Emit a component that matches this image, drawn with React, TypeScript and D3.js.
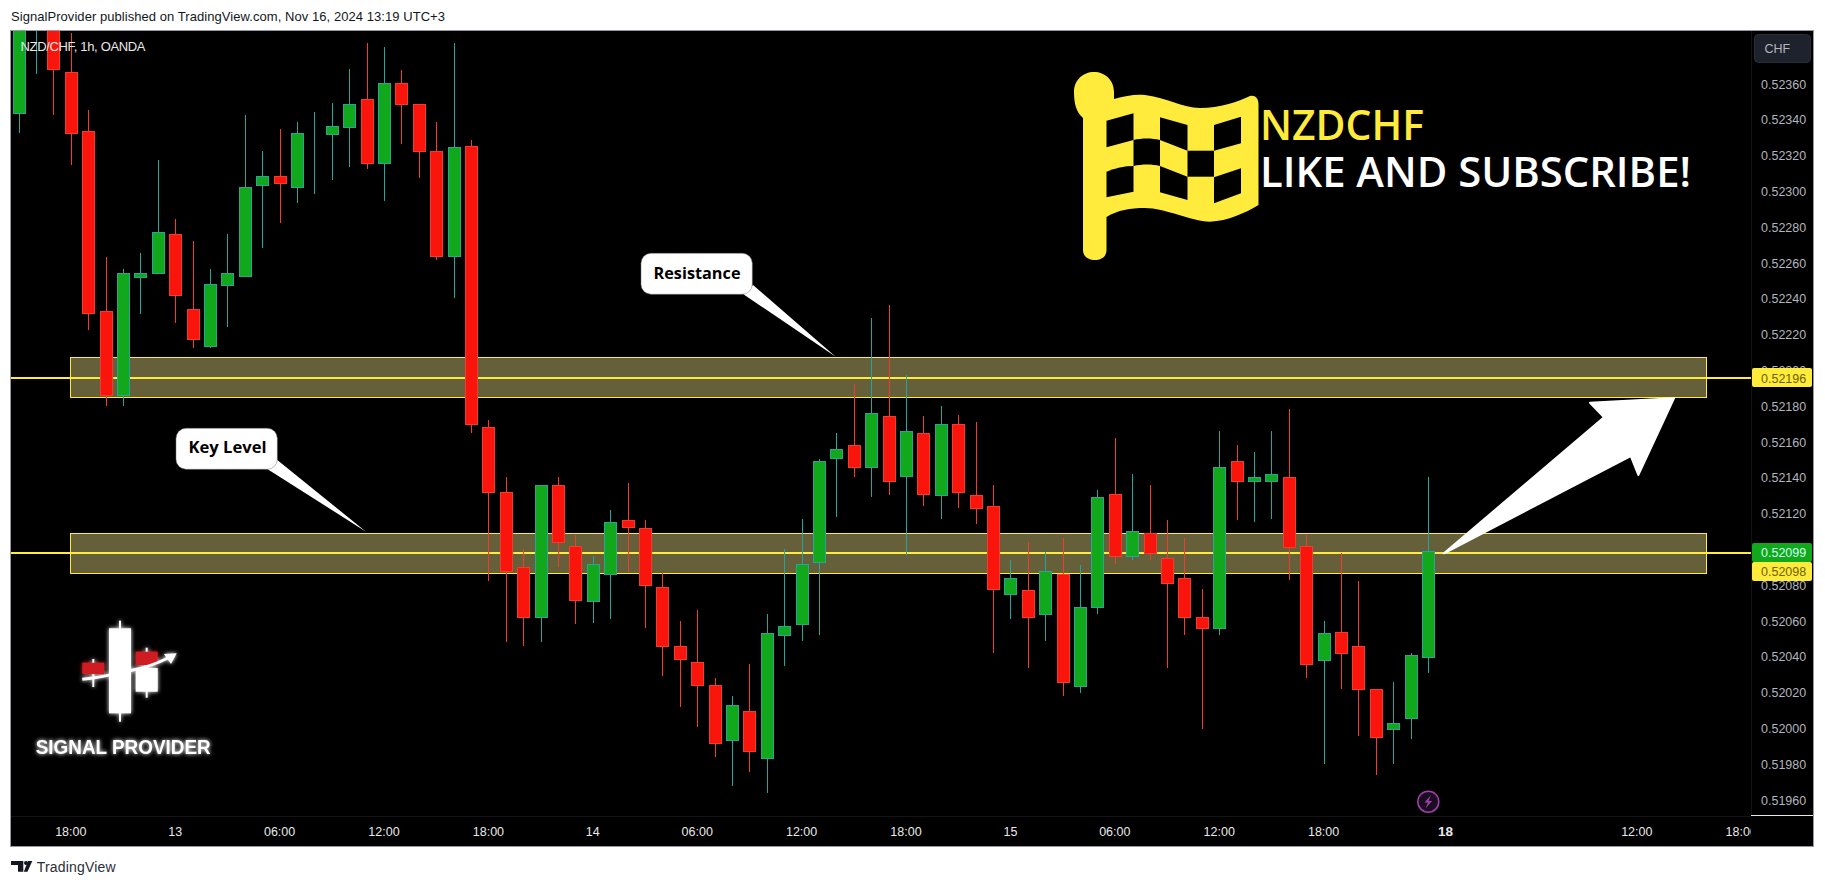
import React from "react";
import * as d3 from "d3";

// ---------- data ----------
const barOpen = [
  0.52344, 0.52392, 0.52398, 0.523665, 0.523336, 0.52233, 0.521861, 0.52252, 0.522542, 0.52276, 0.522341, 0.522138,
  0.522479, 0.522529, 0.523034, 0.523084, 0.523023, 0.523324, 0.523323, 0.523362, 0.523514, 0.523161, 0.523604,
  0.523486, 0.523224, 0.522641, 0.523252, 0.521682, 0.521319, 0.5209, 0.520624, 0.521358, 0.521017, 0.52071,
  0.520861, 0.521162, 0.521118, 0.520788, 0.520458, 0.520369, 0.520241, 0.519937, 0.520095, 0.519837, 0.52052,
  0.520581, 0.520928, 0.521509, 0.521581, 0.521458, 0.521743, 0.521408, 0.521648, 0.521302, 0.521699, 0.521302,
  0.521241, 0.520749, 0.520771, 0.520637, 0.520861, 0.520239, 0.520676, 0.521308, 0.520961, 0.52109, 0.52095,
  0.520838, 0.52062, 0.520559, 0.521492, 0.52138, 0.52138, 0.521403, 0.521017, 0.52038, 0.520537, 0.520458,
  0.520218, 0.519995, 0.520056, 0.520397,
];
const barClose = [
  0.523958, 0.52396, 0.523682, 0.523324, 0.522323, 0.521861, 0.522542, 0.522542, 0.522771, 0.522423, 0.522177,
  0.522481, 0.522542, 0.523023, 0.523084, 0.523045, 0.523324, 0.523324, 0.523364, 0.523486, 0.523161, 0.523604,
  0.523486, 0.523224, 0.522641, 0.523246, 0.521699, 0.521319, 0.520877, 0.520624, 0.521358, 0.521039, 0.520719,
  0.520917, 0.521151, 0.521127, 0.520799, 0.520458, 0.520386, 0.520241, 0.519917, 0.520129, 0.519876, 0.520531,
  0.52057, 0.520917, 0.521492, 0.521559, 0.521458, 0.52176, 0.52138, 0.52166, 0.521308, 0.521699, 0.521319,
  0.521229, 0.520777, 0.520838, 0.52062, 0.520877, 0.520257, 0.520676, 0.521291, 0.520961, 0.521101, 0.520978,
  0.52081, 0.52062, 0.520559, 0.521458, 0.52138, 0.521403, 0.521419, 0.521012, 0.520358, 0.520531, 0.520419,
  0.520218, 0.519954, 0.520028, 0.520408, 0.520989,
];
const barHigh = [
  0.524013, 0.52402, 0.52403, 0.523887, 0.523455, 0.522634, 0.522567, 0.522656, 0.523175, 0.522846, 0.522723,
  0.522567, 0.522762, 0.523427, 0.523226, 0.523347, 0.523388, 0.523444, 0.523494, 0.523684, 0.523829, 0.523807,
  0.523678, 0.523486, 0.523388, 0.523829, 0.523287, 0.521723, 0.521404, 0.521002, 0.521358, 0.521404, 0.52108,
  0.520963, 0.52122, 0.521371, 0.521164, 0.520866, 0.5206, 0.520661, 0.520282, 0.520181, 0.52036, 0.520639,
  0.521002, 0.52117, 0.521503, 0.52165, 0.521924, 0.522293, 0.522365, 0.521972, 0.521745, 0.521801, 0.521751,
  0.521712, 0.52136, 0.520941, 0.521041, 0.520987, 0.521064, 0.520913, 0.521332, 0.521622, 0.521421, 0.52136,
  0.521164, 0.521064, 0.520779, 0.521661, 0.521583, 0.521544, 0.521661, 0.521784, 0.52108, 0.5206, 0.52098,
  0.520823, 0.520218, 0.520259, 0.520419, 0.521404,
];
const barLow = [
  0.523328, 0.523658, 0.523427, 0.523148, 0.522226, 0.521803, 0.521803, 0.522317, 0.522542, 0.522267, 0.522127,
  0.522127, 0.522244, 0.522524, 0.522686, 0.522824, 0.522937, 0.522987, 0.523066, 0.523138, 0.523127, 0.522948,
  0.523267, 0.523077, 0.522619, 0.522406, 0.521648, 0.520825, 0.520485, 0.52046, 0.520485, 0.520902, 0.520585,
  0.520589, 0.520611, 0.520874, 0.520561, 0.520293, 0.52012, 0.520008, 0.51984, 0.519678, 0.519756, 0.519639,
  0.520349, 0.520488, 0.520522, 0.521181, 0.521404, 0.521293, 0.521304, 0.520967, 0.521242, 0.52117, 0.521233,
  0.521142, 0.520421, 0.520611, 0.520337, 0.520488, 0.520181, 0.520198, 0.520639, 0.520918, 0.520941, 0.520941,
  0.520337, 0.520522, 0.519997, 0.520522, 0.521164, 0.521153, 0.52117, 0.520829, 0.520282, 0.519801, 0.52022,
  0.519958, 0.51974, 0.519801, 0.519941, 0.52031,
];
const priceTicks = [
  0.5236, 0.5234, 0.5232, 0.523, 0.5228, 0.5226, 0.5224, 0.5222, 0.522, 0.5218, 0.5216, 0.5214, 0.5212, 0.521,
  0.5208, 0.5206, 0.5204, 0.5202, 0.52, 0.5198, 0.5196,
];
const timeLabels = ["18:00", "13", "06:00", "12:00", "18:00", "14", "06:00", "12:00", "18:00", "15", "06:00", "12:00", "18:00", "18", "12:00", "18:00"];
const timeLabelBars = [3, 9, 15, 21, 27, 33, 39, 45, 51, 57, 63, 69, 75, 82, 93, 99];
const zoneBands = [
  [0.522073, 0.52185],
  [0.52109, 0.520867],
];
const levelLines = [0.52196, 0.52098];
const lastPrice = 0.52099;
const headerText = "SignalProvider published on TradingView.com, Nov 16, 2024 13:19 UTC+3";
const symbolText = "NZD/CHF, 1h, OANDA";

// ---------- scales ----------
const x = d3.scaleLinear().domain([0, 81]).range([18.6, 1428]);
const y = d3.scaleLinear().domain([0.5236, 0.5196]).range([84, 800]);
const fmt = d3.format(".5f");

const GREEN = "#11a81c";
const RED = "#f9150c";
const TEAL = "#26a69a";
const REDLINE = "#f23d2e";
const YELLOW = "#ffeb3b";
const BAND = "#655f3a";
const AXIS = "#b2b5be";
const SANS = "'Liberation Sans', Arial, sans-serif";
const OPEN = "'Open Sans', sans-serif";

const flagPath =
  "M1083 118 C1076 112 1074 103 1074 92 C1074 80 1083 72 1094 72 C1105 72 1114 80 1114 92 L1114 99 C1125 96 1135 94 1145 95 C1165 97 1183 108 1200 108 C1220 108 1237 102 1250 96 C1255 95 1258.5 98 1258.5 104 L1258.5 205 C1245 213 1228 221 1210 221.7 C1190 221 1165 208 1145 208 C1130 208 1118 210 1106.5 217 L1106.5 250 C1106.5 257 1101 260 1095 260 C1089 260 1083 257 1083 250 Z";

const flagHoles = [
  "M1106.5 120.7 L1133.5 113.3 L1133.5 140 L1106.5 147.3 Z",
  "M1160 117.3 L1187.5 125 L1187.5 150.7 L1160 140 Z",
  "M1214 125 L1241 116.7 L1241 143.3 L1214 150.7 Z",
  "M1133.5 140 C1142 138 1152 138 1160 140 L1160 166 C1152 164 1142 164 1133.5 166 Z",
  "M1187.5 150.7 L1214 150.7 L1214 176.7 L1187.5 176.7 Z",
  "M1106.5 171.7 C1115 168 1125 166 1133.5 166 L1133.5 191.7 L1106.5 197.3 Z",
  "M1160 166 L1187.5 176.7 L1187.5 200 L1160 192.3 Z",
  "M1214 177.3 L1241 168.3 L1241 193.3 L1214 203.3 Z",
];

function Callout({ box, tail, label, tx, ty, tw }: any) {
  const [x0, y0, w, h] = box;
  return (
    <g>
      <polygon points={tail} fill="#fff" />
      <rect x={x0} y={y0} width={w} height={h} rx={10} fill="#fff" stroke="#777" strokeWidth={0.5} />
      <text x={tx} y={ty} fontFamily={OPEN} fontWeight={700} fontSize={16.5} fill="#000" textLength={tw} lengthAdjust="spacingAndGlyphs">
        {label}
      </text>
    </g>
  );
}

export default function App() {
  return (
    <svg
      width={1825}
      height={886}
      viewBox="0 0 1825 886"
      style={{ position: "absolute", left: 0, top: 0, display: "block", background: "#fff" }}
    >
      <defs>
        <clipPath id="plot">
          <rect x={11} y={31} width={1740} height={785} />
        </clipPath>
        <clipPath id="timeaxis">
          <rect x={11} y={816} width={1740} height={31} />
        </clipPath>
        <filter id="glow" x="-20%" y="-20%" width="140%" height="140%">
          <feGaussianBlur stdDeviation="2.2" result="b" />
          <feMerge>
            <feMergeNode in="b" />
            <feMergeNode in="SourceGraphic" />
          </feMerge>
        </filter>
      </defs>

      <text x={11} y={21} fontFamily={SANS} fontSize={13} fill="#131722" textLength={434} lengthAdjust="spacing">
        {headerText}
      </text>

      <rect x={10.5} y={30.5} width={1803} height={816} fill="#000" stroke="#9598a1" strokeWidth={1} />

      <line x1={1751.5} x2={1751.5} y1={31} y2={816} stroke="#131313" />
      <line x1={11} x2={1751} y1={816.5} y2={816.5} stroke="#131313" />

      <g clipPath="url(#plot)">
        {zoneBands.map((b, i) => (
          <rect
            key={i}
            x={70.5}
            y={Math.round(y(b[0])) + 0.5}
            width={1636}
            height={Math.round(y(b[1])) - Math.round(y(b[0]))}
            fill={BAND}
            stroke={YELLOW}
            strokeWidth={1}
            shapeRendering="crispEdges"
          />
        ))}
        {levelLines.map((l, i) => (
          <line key={i} x1={11} x2={1751} y1={y(l)} y2={y(l)} stroke={YELLOW} strokeWidth={2} shapeRendering="crispEdges" />
        ))}
        {barOpen.map((o, i) => {
          const c = barClose[i];
          const up = c >= o;
          const cx = Math.round(x(i));
          const top = Math.round(y(Math.max(o, c)));
          const bottom = Math.round(y(Math.min(o, c)));
          return (
            <g key={i} shapeRendering="crispEdges">
              <line x1={cx + 0.5} x2={cx + 0.5} y1={y(barHigh[i])} y2={y(barLow[i])} stroke={up ? TEAL : REDLINE} strokeWidth={1} />
              <rect
                x={cx - 5.5}
                y={top + 0.5}
                width={12}
                height={Math.max(bottom - top, 0)}
                fill={up ? GREEN : RED}
                stroke={up ? TEAL : REDLINE}
                strokeWidth={1}
              />
            </g>
          );
        })}
      </g>

      <text x={20.5} y={50.5} fontFamily={SANS} fontSize={13} fill="#e8e8e8" textLength={125} lengthAdjust="spacing">
        {symbolText}
      </text>

      {/* flag badge */}
      <path d={flagPath} fill={YELLOW} />
      {flagHoles.map((d, i) => (
        <path key={i} d={d} fill="#000" />
      ))}
      <text x={1260} y={140} fontFamily={OPEN} fontWeight={600} fontSize={42} fill={YELLOW} textLength={164} lengthAdjust="spacingAndGlyphs">
        NZDCHF
      </text>
      <text x={1260} y={187} fontFamily={OPEN} fontWeight={600} fontSize={42} fill="#fff" textLength={431} lengthAdjust="spacingAndGlyphs">
        LIKE AND SUBSCRIBE!
      </text>

      {/* callouts */}
      <Callout box={[641, 253.3, 111.3, 41]} tail="743,294 835.7,356.7 753,285" label="Resistance" tx={653.5} ty={279} tw={87} />
      <Callout box={[176, 428.3, 101.3, 41]} tail="267.3,469 366,531.7 277.3,460" label="Key Level" tx={188.5} ty={453} tw={78} />

      {/* arrow */}
      <polygon
        points="1444,553.3 1604,417.3 1590,402.7 1674,398.3 1638.3,475 1630.7,456"
        fill="#fff"
        stroke="#fff"
        strokeWidth={2}
        strokeLinejoin="round"
      />

      {/* logo */}
      <g filter="url(#glow)">
        <rect x={119} y={620.7} width={2} height={101} fill="#fff" />
        <rect x={109} y={628.3} width={22} height={85} fill="#fff" />
        <rect x={92.3} y={659} width={2} height={28} fill="#fff" />
        <rect x={82.3} y={662.7} width={22} height={11.3} fill="#cf1c24" />
        <rect x={145.7} y={647.7} width={2} height={50} fill="#fff" />
        <rect x={135.7} y={651.7} width={22} height={13.3} fill="#cf1c24" />
        <rect x={135.7} y={668} width={22} height={23.7} fill="#fff" />
        <path d="M82.3 679.3 C105 677 118 673 133 670 C148 667 158 663 168 658" fill="none" stroke="#fff" strokeWidth={3} />
        <polygon points="176.7,653.3 164,654 171,664" fill="#fff" />
        <text x={35.7} y={754} fontFamily={SANS} fontWeight={700} fontSize={19.5} fill="#fff" textLength={175} lengthAdjust="spacingAndGlyphs">
          SIGNAL PROVIDER
        </text>
      </g>

      {/* lightning icon */}
      <circle cx={1428.3} cy={801.7} r={10.5} fill="#1a0d1f" stroke="#a23fae" strokeWidth={1.5} />
      <path d="M1431 795 L1424.5 802.5 L1428 802.5 L1425.5 808.5 L1432 801 L1428.5 801 Z" fill="#a23fae" />

      {/* time axis */}
      <g clipPath="url(#timeaxis)">
        {timeLabels.map((t, i) => (
          <text
            key={i}
            x={x(timeLabelBars[i])}
            y={836}
            textAnchor="middle"
            fontFamily={SANS}
            fontSize={t === "18" ? 13.5 : 12.5}
            fontWeight={t === "18" ? 700 : 400}
            fill="#e8e8e8"
          >
            {t}
          </text>
        ))}
      </g>

      {/* price axis */}
      {priceTicks.map((p, i) => (
        <text key={i} x={1761} y={y(p) + 4.5} fontFamily={SANS} fontSize={12.5} fill={AXIS}>
          {fmt(p)}
        </text>
      ))}
      <line x1={1751} x2={1813} y1={815.5} y2={815.5} stroke="#e8e8e8" />
      <rect x={1754.5} y={34.5} width={56} height={28} rx={4} fill="#1e222d" stroke="#2a2e39" />
      <text x={1764.5} y={53} fontFamily={SANS} fontSize={12.5} fill={AXIS}>
        CHF
      </text>

      <rect x={1752} y={368} width={60} height={19} rx={2} fill={YELLOW} />
      <text x={1761} y={382.5} fontFamily={SANS} fontSize={12.5} fill="#6b6100">
        {fmt(levelLines[0])}
      </text>
      <rect x={1752} y={543} width={60} height={19} rx={2} fill={GREEN} />
      <text x={1761} y={557} fontFamily={SANS} fontSize={12.5} fill="#cfe">
        {fmt(lastPrice)}
      </text>
      <rect x={1752} y={562} width={60} height={19} rx={2} fill={YELLOW} />
      <text x={1761} y={576} fontFamily={SANS} fontSize={12.5} fill="#6b6100">
        {fmt(levelLines[1])}
      </text>

      {/* footer brand */}
      <path d="M11 861 L23.3 861 L23.3 871.7 L18 871.7 L18 865 L11 865 Z" fill="#131722" />
      <circle cx={26} cy={863} r={2} fill="#131722" />
      <polygon points="32.3,861 27.5,871.7 23.8,871.7 28,861" fill="#131722" />
      <text x={36.7} y={872} fontFamily={SANS} fontSize={14} fill="#2a2e39" textLength={79} lengthAdjust="spacing">
        TradingView
      </text>
    </svg>
  );
}
